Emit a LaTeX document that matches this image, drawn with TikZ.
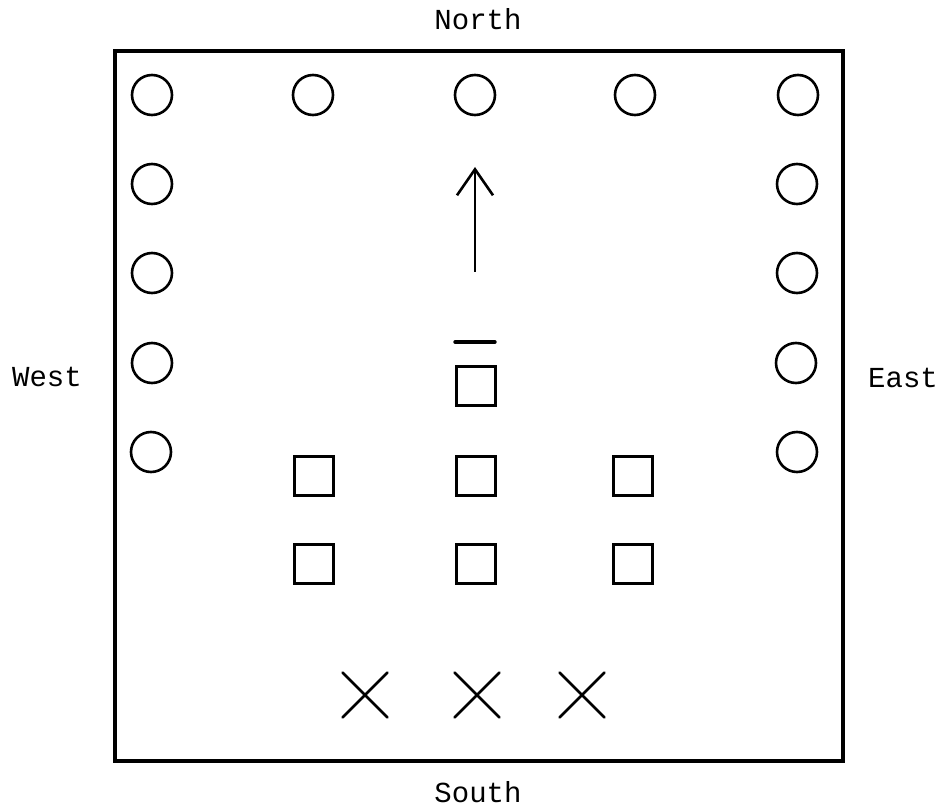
\documentclass[tikz,border=0pt]{standalone}
\usepackage{fontspec}
\setmonofont{Liberation Mono}
\usetikzlibrary{arrows.meta, positioning, shapes.misc}

\begin{document}
\begin{tikzpicture}[x=1pt, y=-1pt, >={Straight Barb[length=26pt, width=36pt]}, line width=2.6pt,
    every node/.style={font=\ttfamily\fontsize{29}{32}\selectfont},
    post/.style={draw, circle, minimum size=40pt, inner sep=0pt, line width=2.6pt},
    unit/.style={draw, rectangle, minimum size=39pt, inner sep=0pt, line width=2.8pt},
    xmark/.style={draw, cross out, minimum size=42pt, inner sep=0pt, line width=2.8pt, line cap=round}]
    \useasboundingbox (0,0) rectangle (943,810);

    % Field
    \node[draw, line width=3.2pt, minimum width=728pt, minimum height=710pt, inner sep=0pt] (field) at (479,406) {};
    \node (north) at (478,19) {North};
    \node (south) at (478,792) {South};
    \node (west) at (47,377) {West};
    \node (east) at (903,378) {East};

    % Posts along the walls
    \node[post] (n1) at (152,95) {};
    \node[post] (n2) at (313,95) {};
    \node[post] (n3) at (475,95) {};
    \node[post] (n4) at (635,95) {};
    \node[post] (n5) at (798,95) {};
    \node[post] (w2) at (152,184) {};
    \node[post] (w3) at (152,273) {};
    \node[post] (w4) at (152,363) {};
    \node[post] (w5) at (151,452) {};
    \node[post] (e2) at (797,184) {};
    \node[post] (e3) at (797,273) {};
    \node[post] (e4) at (796,363) {};
    \node[post] (e5) at (797,452) {};

    % Units
    \node[unit] (lead) at (476,386) {};
    \node[unit] (a1) at (314,476) {};
    \node[unit] (a2) at (476,476) {};
    \node[unit] (a3) at (633,476) {};
    \node[unit] (b1) at (314,564) {};
    \node[unit] (b2) at (476,564) {};
    \node[unit] (b3) at (633,564) {};
    \draw[line width=3.4pt, line cap=round] (455,342) -- (495,342);

    % Direction
    \coordinate (tail) at (475,272);
    \coordinate (head) at (475,167);
    \draw[->] (tail) -- (head);

    % Crosses
    \node[xmark] (x1) at (365,695) {};
    \node[xmark] (x2) at (477,695) {};
    \node[xmark] (x3) at (582,695) {};

\end{tikzpicture}
\end{document}
